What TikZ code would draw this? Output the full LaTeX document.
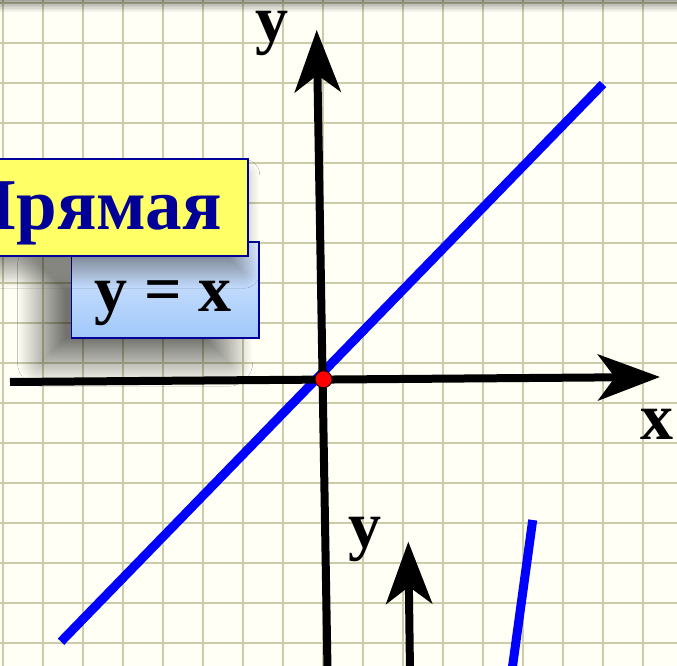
\documentclass[tikz,border=0pt]{standalone}
\usepackage{fontspec}
\setmainfont{Liberation Serif}
\usetikzlibrary{arrows.meta,shadows.blur}
\definecolor{paper}{RGB}{255,255,246}
\definecolor{gridc}{RGB}{204,204,168}
\definecolor{lineblue}{RGB}{0,0,255}
\definecolor{navy}{RGB}{0,0,153}
\definecolor{yel}{RGB}{255,255,102}
\definecolor{boxtop}{RGB}{222,234,255}
\definecolor{boxbot}{RGB}{160,200,250}
\begin{document}
\begin{tikzpicture}[x=1pt,y=1pt,
  axis/.style={line width=8pt,-{Stealth[length=62pt,width=46pt,inset=17pt]}},
  graphline/.style={line width=9pt,lineblue},
  gridline/.style={gridc,line width=2pt},
  lbl/.style={font=\fontsize{66}{66}\selectfont\bfseries,inner sep=0pt,anchor=base},
  boxframe/.style={draw=navy,line width=1.5pt,inner sep=0pt,anchor=south west}
  ]
\useasboundingbox (0,0) rectangle (677,666);
\clip (0,0) rectangle (677,666);
\fill[paper] (0,0) rectangle (677,666);
\foreach \i in {0,...,16} {
  \draw[gridline] (3.3+40*\i,0) -- (3.3+40*\i,666);
  \draw[gridline] (0,663.3-40*\i) -- (677,663.3-40*\i);
}
\foreach \i in {1,...,8} {
  \fill[black,opacity=0.05] (0,666-1.5*\i) rectangle (677,666);
}
% coordinates
\coordinate (lineA) at (61,24.3);
\coordinate (lineB) at (603,582);
\coordinate (xL) at (10,284);
\coordinate (xR) at (660,289);
\coordinate (yB) at (327.5,-4);
\coordinate (yT) at (316.7,636);
\coordinate (lineC) at (532.7,146);
\coordinate (lineD) at (511.5,-8);
\coordinate (y2B) at (410,-6);
\coordinate (y2T) at (408.3,124.3);
% graph lines
\draw[graphline] (lineA) -- (lineB);
\draw[graphline] (lineC) -- (lineD);
% axes
\draw[axis] (xL) -- (xR);
\draw[axis] (yB) -- (yT);
\draw[axis] (y2B) -- (y2T);
\node[circle,fill=red,draw=black,line width=0.8pt,minimum size=17pt,inner sep=0pt] (O) at (323.5,286.7) {};
% labels
\node[lbl] (ylab) at (272,624) {y};
\node[lbl] (xlab) at (657,226) {x};
\node[lbl] (y2lab) at (365,118) {y};
% boxes
\node[boxframe,top color=boxtop,bottom color=boxbot,minimum width=187.3pt,minimum height=96pt,
  blur shadow={shadow xshift=-30pt,shadow yshift=-24pt,shadow blur radius=24pt,shadow blur steps=30,shadow opacity=55}] (eqbox) at (70.7,327) {};
\node[lbl] (eq) at (163,354.3) {y = x};
\node[boxframe,fill=yel,minimum width=267pt,minimum height=97pt,
  blur shadow={shadow xshift=-4pt,shadow yshift=-16pt,shadow blur radius=16pt,shadow blur steps=25,shadow opacity=40}] (title) at (-20,409) {};
\node[font=\fontsize{73}{73}\selectfont\bfseries,text=navy,anchor=base east,inner sep=0pt] (titletext) at (222,436) {Прямая};
\end{tikzpicture}
\end{document}
